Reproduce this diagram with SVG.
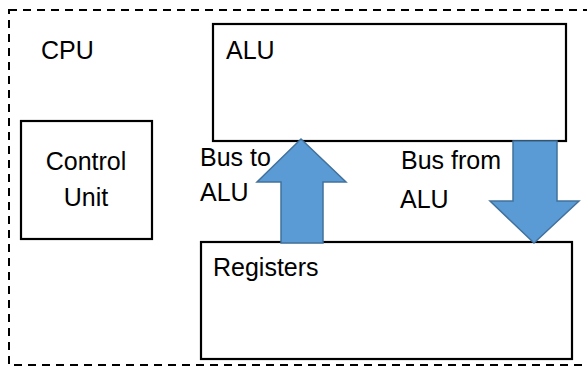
<svg xmlns="http://www.w3.org/2000/svg" width="587" height="367" viewBox="0 0 587 367">
<style>
.box{fill:#fff;stroke:#000;stroke-width:2.2}
.cpu{fill:none;stroke:#000;stroke-width:2;stroke-dasharray:8 6}
.t{font-family:"Liberation Sans",Arial,sans-serif;font-size:25px;fill:#000}
.arrow{fill:#5B9BD5;stroke:#41719C;stroke-width:1.5}
</style>
<rect width="587" height="367" fill="#fff"/>
<g id="cpu">
<rect class="cpu" x="9" y="10" width="620" height="355"/>
<text class="t" x="41" y="59">CPU</text>
</g>
<g id="alu">
<rect class="box" x="213" y="24" width="353" height="117"/>
<text class="t" x="226" y="59">ALU</text>
</g>
<g id="control-unit">
<rect class="box" x="21" y="121" width="131" height="118"/>
<text class="t" x="86" y="170" text-anchor="middle">Control</text>
<text class="t" x="86" y="206" text-anchor="middle">Unit</text>
</g>
<g id="registers">
<rect class="box" x="201" y="242" width="371" height="117"/>
<text class="t" x="213" y="276">Registers</text>
</g>
<g id="connectors">
<g id="bus-to-alu">
<polygon class="arrow" points="301,139 346,182 323,182 323,243 281,243 281,182 257,182"/>
<text class="t" x="200" y="166">Bus to</text>
<text class="t" x="200" y="201">ALU</text>
</g>
<g id="bus-from-alu">
<polygon class="arrow" points="513,141 557,141 557,201 579,201 534,243 490,201 513,201"/>
<text class="t" x="401" y="169">Bus from</text>
<text class="t" x="400" y="208">ALU</text>
</g>
</g>
</svg>
